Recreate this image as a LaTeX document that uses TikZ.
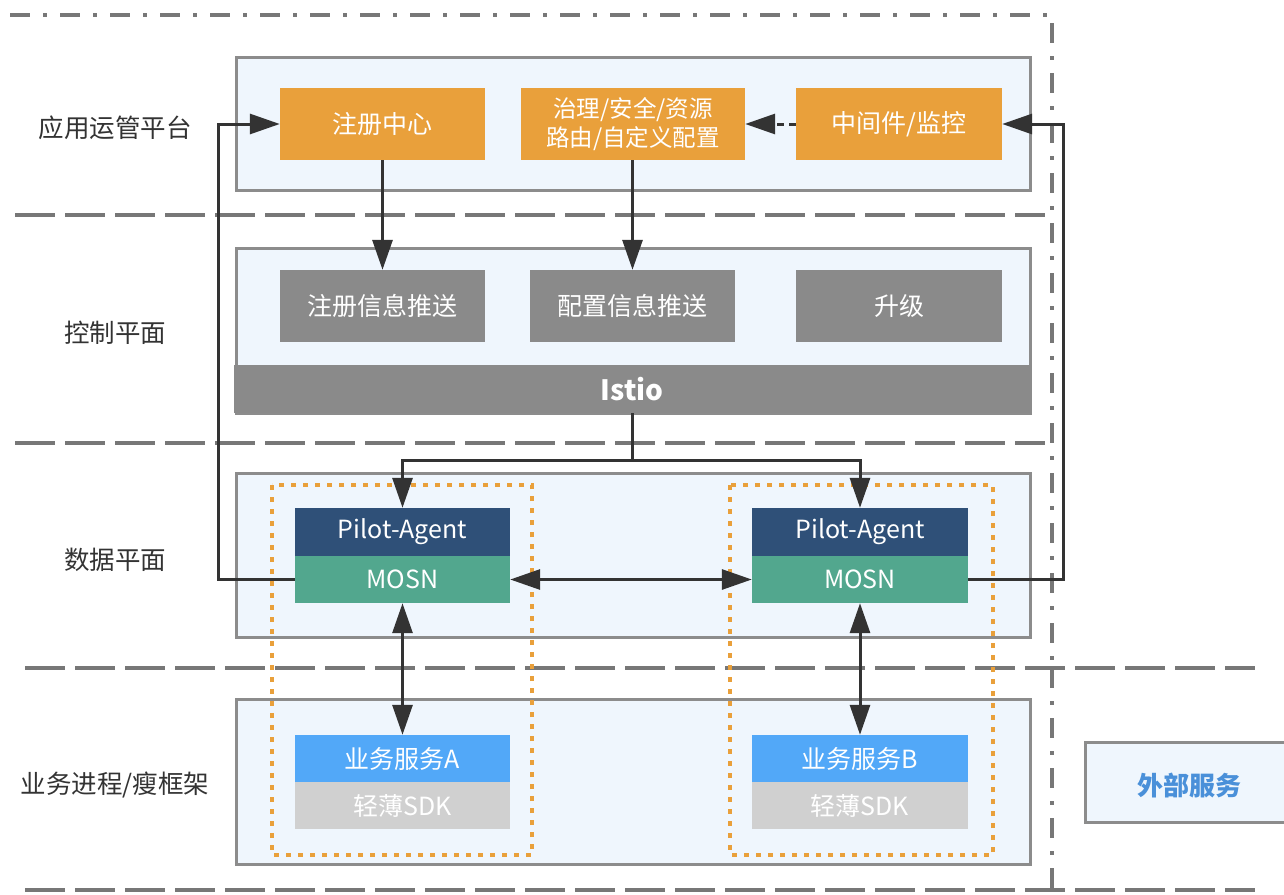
\documentclass[tikz,border=0pt]{standalone}
\usepackage{fontspec}
\setmainfont{Noto Sans CJK SC}
\usetikzlibrary{arrows.meta}
\definecolor{bordergray}{HTML}{8C8C8C}
\definecolor{layerfill}{HTML}{EFF6FD}
\definecolor{orangebox}{HTML}{E9A03B}
\definecolor{graybox}{HTML}{8A8A8A}
\definecolor{pilotblue}{HTML}{2F5078}
\definecolor{mosngreen}{HTML}{52A78E}
\definecolor{svcblue}{HTML}{52A8F8}
\definecolor{sdkgray}{HTML}{D0D0D0}
\definecolor{arrowdark}{HTML}{333333}
\definecolor{labeltext}{HTML}{333333}
\definecolor{extblue}{HTML}{4A90D9}
\tikzset{
  layer/.style={draw=bordergray, line width=3pt, fill=layerfill},
  sepline/.style={draw=bordergray!85!black, line width=3.5pt, dash pattern=on 40pt off 10pt},
  dashdotline/.style={draw=bordergray!85!black, line width=3.5pt, dash pattern=on 20pt off 13pt on 4pt off 13pt},
  blk/.style={inner sep=0pt, text=white, font=\fontsize{25}{29}\selectfont, align=center},
  sidelabel/.style={text=labeltext, font=\fontsize{25.5}{29}\selectfont},
  arr/.style={draw=arrowdark, line width=3pt, -{Triangle[length=30pt,width=20pt]}},
  darr/.style={draw=arrowdark, line width=3pt, {Triangle[length=30pt,width=20pt]}-{Triangle[length=30pt,width=20pt]}},
  plainline/.style={draw=arrowdark, line width=3pt},
  orangedot/.style={draw=orangebox, line width=3.5pt, dash pattern=on 5pt off 7pt},
}
\begin{document}
\begin{tikzpicture}[x=1pt,y=-1pt]
\useasboundingbox (0,0) rectangle (1284,894);
\fill[white] (0,0) rectangle (1284,894);

% separators and outer frame
\draw[dashdotline] (10,15) -- (1052,15) -- (1052,668);
\draw[dashdotline] (1052,668) -- (1052,890);
\draw[sepline] (15,215) -- (1045,215);
\draw[sepline] (15,443) -- (1045,443);
\draw[sepline] (25,668) -- (1255,668);
\draw[sepline] (25,890) -- (1255,890);

% layers
\path[layer] (236,57) rectangle (1030,190);
\path[layer] (236,248) rectangle (1030,413);
\path[layer] (236,473) rectangle (1030,637);
\path[layer] (236,699) rectangle (1030,864);
\path[layer] (1085,742) rectangle (1296,822);

% side labels
\node[sidelabel] (l1) at (115,128) {应用运管平台};
\node[sidelabel] (l2) at (115,333) {控制平面};
\node[sidelabel] (l3) at (115,560) {数据平面};
\node[sidelabel] (l4) at (115,785) {业务进程/瘦框架};

% platform
\node[blk, fill=orangebox, minimum width=205pt, minimum height=72pt] (zc) at (382.5,124) {注册中心};
\node[blk, fill=orangebox, minimum width=224pt, minimum height=72pt, font=\fontsize{23.5}{29}\selectfont] (gl) at (633,124) {治理/安全/资源\\路由/自定义配置};
\node[blk, fill=orangebox, minimum width=206pt, minimum height=72pt] (mw) at (899,124) {中间件/监控};

% control plane
\node[blk, fill=graybox, minimum width=205pt, minimum height=72pt] (zx) at (382.5,306) {注册信息推送};
\node[blk, fill=graybox, minimum width=205pt, minimum height=72pt] (px) at (632.5,306) {配置信息推送};
\node[blk, fill=graybox, minimum width=206pt, minimum height=72pt] (sj) at (899,306) {升级};
\node[blk, fill=graybox, minimum width=796pt, minimum height=48pt, font=\fontsize{28}{32}\selectfont\bfseries] (istio) at (632,389) {Istio};

% orange dotted groups
\draw[orangedot] (272,485) rectangle (532,855);
\draw[orangedot] (730,485) rectangle (993,855);

% data plane
\node[blk, fill=pilotblue, minimum width=215pt, minimum height=48pt] (pa) at (402.5,532) {Pilot-Agent};
\node[blk, fill=mosngreen, minimum width=215pt, minimum height=47pt] (ma) at (402.5,579.5) {MOSN};
\node[blk, fill=pilotblue, minimum width=216pt, minimum height=48pt] (pb) at (860,532) {Pilot-Agent};
\node[blk, fill=mosngreen, minimum width=216pt, minimum height=47pt] (mb) at (860,579.5) {MOSN};

% services
\node[blk, fill=svcblue, minimum width=215pt, minimum height=47pt] (sa) at (402.5,758.5) {业务服务A};
\node[blk, fill=sdkgray, minimum width=215pt, minimum height=47pt] (ka) at (402.5,805.5) {轻薄SDK};
\node[blk, fill=svcblue, minimum width=216pt, minimum height=47pt] (sb) at (860,758.5) {业务服务B};
\node[blk, fill=sdkgray, minimum width=216pt, minimum height=47pt] (kb) at (860,805.5) {轻薄SDK};

% external
\node[text=extblue, font=\fontsize{26}{30}\selectfont\bfseries] (ext) at (1189,786) {外部服务};

% connectors
\coordinate (j1) at (632,460);
\draw[arr] (zc.south) -- (zc.south |- zx.north);
\draw[arr] (gl.south -| px.north) -- (px.north);
\draw[arr, dash pattern=on 7pt off 5pt] (mw.west) -- (gl.east);
\draw[plainline] (istio.south) -- (j1);
\draw[arr] (j1) -| (pa.north);
\draw[arr] (j1) -| (pb.north);
\draw[arr] (ma.west) -- ++(-76,0) |- (zc.west);
\draw[arr] (mb.east) -- ++(95,0) |- (mw.east);
\draw[darr] (ma.east) -- (mb.west);
\draw[darr] (ma.south) -- (sa.north);
\draw[darr] (mb.south) -- (sb.north);
\end{tikzpicture}
\end{document}
